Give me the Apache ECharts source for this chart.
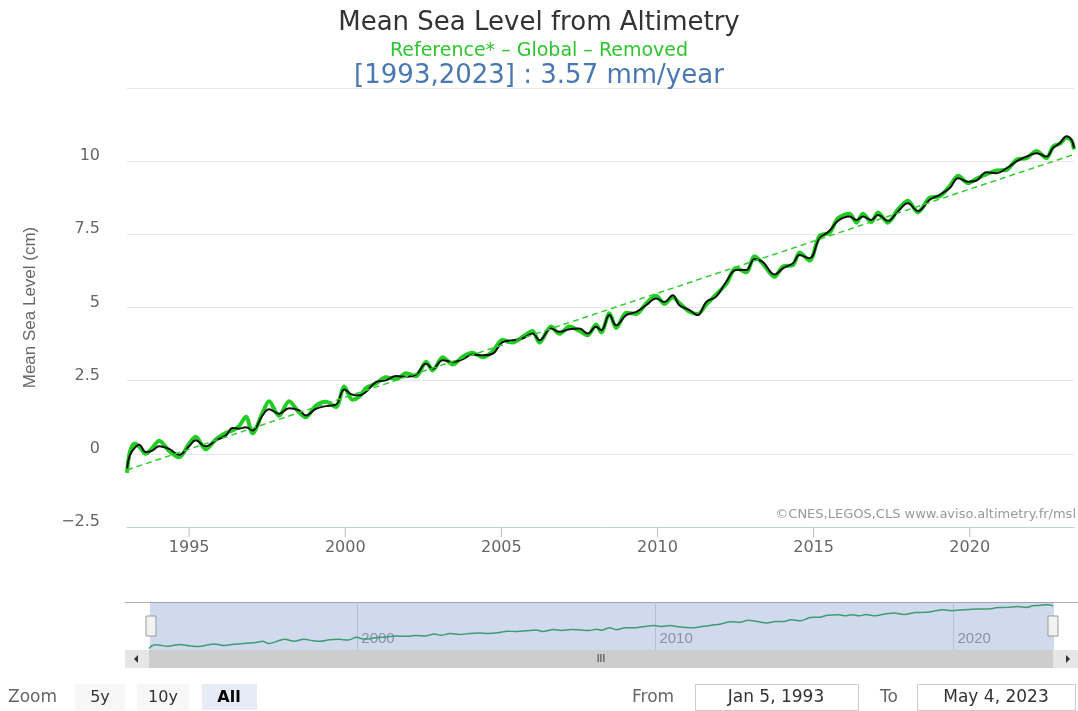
<!DOCTYPE html>
<html>
<head>
<meta charset="utf-8">
<script src="https://cdn.jsdelivr.net/npm/echarts@6/dist/echarts.min.js"></script>
<style>
  html, body { margin: 0; padding: 0; background: #fff; }
  #chart { width: 1078px; height: 711px; }
</style>
</head>
<body>
<div id="chart"></div>
<script>
// decimal years of the samples
var years = [
  1993.01, 1993.10, 1993.25, 1993.40, 1993.61, 1993.82, 1994.04, 1994.36, 1994.68, 1995.00,
  1995.21, 1995.53, 1995.86, 1996.18, 1996.39, 1996.60, 1996.82, 1997.03, 1997.35, 1997.56,
  1997.88, 1998.20, 1998.53, 1998.74, 1999.06, 1999.38, 1999.70, 1999.97, 2000.23, 2000.45,
  2000.66, 2000.98, 2001.30, 2001.63, 2001.95, 2002.27, 2002.59, 2002.80, 2003.12, 2003.44,
  2003.76, 2004.08, 2004.40, 2004.72, 2005.04, 2005.36, 2005.68, 2006.00, 2006.22, 2006.59,
  2006.86, 2007.18, 2007.50, 2007.77, 2008.03, 2008.20, 2008.46, 2008.68, 2009.00, 2009.32,
  2009.64, 2009.96, 2010.22, 2010.49, 2010.70, 2011.03, 2011.29, 2011.56, 2011.88, 2012.20,
  2012.52, 2012.84, 2013.11, 2013.37, 2013.75, 2014.02, 2014.34, 2014.55, 2014.87, 2015.19,
  2015.51, 2015.78, 2016.15, 2016.37, 2016.58, 2016.85, 2017.06, 2017.38, 2017.70, 2018.02,
  2018.34, 2018.72, 2019.04, 2019.36, 2019.63, 2019.95, 2020.21, 2020.53, 2020.86, 2021.18,
  2021.50, 2021.82, 2022.14, 2022.46, 2022.67, 2022.89, 2023.10, 2023.26, 2023.34
];
// green: raw mean sea level (cm)
var mslRaw = [
  -0.65, 0.05, 0.35, 0.25, 0.00, 0.20, 0.45, 0.10, -0.12, 0.35,
  0.58, 0.15, 0.50, 0.72, 0.80, 0.95, 1.27, 0.70, 1.40, 1.80,
  1.30, 1.80, 1.40, 1.25, 1.65, 1.78, 1.60, 2.30, 1.85, 1.95,
  2.25, 2.40, 2.62, 2.55, 2.75, 2.65, 3.15, 2.85, 3.30, 3.05,
  3.32, 3.45, 3.30, 3.50, 3.90, 3.80, 4.00, 4.20, 3.80, 4.35,
  4.10, 4.35, 4.20, 4.05, 4.42, 4.15, 4.80, 4.30, 4.82, 4.78,
  5.15, 5.40, 5.12, 5.35, 5.15, 4.85, 4.78, 5.10, 5.45, 5.80,
  6.35, 6.20, 6.75, 6.50, 6.05, 6.40, 6.45, 6.88, 6.60, 7.45,
  7.55, 8.05, 8.20, 7.90, 8.20, 7.92, 8.25, 7.90, 8.35, 8.65,
  8.25, 8.75, 8.80, 9.15, 9.50, 9.25, 9.40, 9.55, 9.68, 9.70,
  10.05, 10.10, 10.35, 10.10, 10.50, 10.60, 10.80, 10.70, 10.40
];
// black: filtered mean sea level (cm)
var mslSmooth = [
  -0.50, -0.05, 0.20, 0.31, 0.06, 0.11, 0.26, 0.17, -0.03, 0.26,
  0.46, 0.26, 0.46, 0.63, 0.88, 0.86, 0.91, 0.80, 1.31, 1.52,
  1.37, 1.56, 1.48, 1.31, 1.54, 1.63, 1.68, 2.20, 2.02, 2.00,
  2.11, 2.45, 2.51, 2.66, 2.63, 2.71, 3.08, 2.91, 3.20, 3.14,
  3.23, 3.39, 3.37, 3.42, 3.82, 3.88, 3.94, 4.11, 3.88, 4.28,
  4.17, 4.26, 4.28, 4.11, 4.34, 4.22, 4.74, 4.39, 4.74, 4.85,
  5.08, 5.31, 5.19, 5.42, 5.08, 4.91, 4.74, 5.19, 5.37, 5.88,
  6.28, 6.28, 6.66, 6.56, 6.13, 6.34, 6.51, 6.79, 6.68, 7.36,
  7.62, 7.96, 8.11, 7.99, 8.11, 7.99, 8.16, 7.96, 8.28, 8.56,
  8.30, 8.68, 8.85, 9.08, 9.42, 9.30, 9.33, 9.62, 9.59, 9.76,
  9.99, 10.16, 10.27, 10.16, 10.45, 10.62, 10.85, 10.73, 10.45
];
// linear trend 3.57 mm/year
var trendYears = [1993.01, 2023.34];
var trendValues = [-0.55, 10.23];

var xTickYears = [1995, 2000, 2005, 2010, 2015, 2020];
var navTickYears = [2000, 2010, 2020];
var yMin = -2.5;

function pairs(xs, ys) {
  return xs.map(function (x, i) { return [x, ys[i]]; });
}

var labelFont = 'DejaVu Sans, sans-serif';
var narrowFont = "'Liberation Sans Narrow', 'Liberation Sans', sans-serif";

var chart = echarts.init(document.getElementById('chart'), null, { renderer: 'canvas' });

var option = {
  animation: false,
  backgroundColor: '#fff',
  title: [
    { text: 'Mean Sea Level from Altimetry', left: 'center', top: 5,
      textStyle: { fontFamily: labelFont, fontSize: 26, fontWeight: 'normal', color: '#333' } },
    { text: 'Reference* \u2013 Global \u2013 Removed', left: 'center', top: 37,
      textStyle: { fontFamily: labelFont, fontSize: 19, fontWeight: 'normal', color: '#2fc42f' } },
    { text: '[1993,2023] : 3.57 mm/year', left: 'center', top: 58,
      textStyle: { fontFamily: labelFont, fontSize: 26, fontWeight: 'normal', color: '#4a78b0' } }
  ],
  grid: [
    { left: 127, right: 4, top: 88, bottom: 184 },
    { left: 149, right: 25, top: 602, height: 48 }
  ],
  xAxis: [
    {
      type: 'value', gridIndex: 0, min: 1993.01, max: 2023.34,
      axisLine: { show: true, onZero: false, lineStyle: { color: '#c0d0e0', width: 1 } },
      axisTick: { show: false },
      axisLabel: { customValues: xTickYears, color: '#666', fontSize: 16, fontFamily: labelFont, margin: 13,
        formatter: function (v) { return String(v); } },
      splitLine: { show: false }
    },
    {
      type: 'value', gridIndex: 1, min: 1993.01, max: 2023.34,
      axisLine: { show: false, onZero: false },
      axisTick: { show: false, customValues: navTickYears },
      axisLabel: { customValues: navTickYears, inside: true, align: 'left', verticalAlign: 'bottom',
        margin: 4, padding: [0, 0, 0, 4], color: '#999', fontSize: 15, fontFamily: narrowFont,
        formatter: function (v) { return String(v); } },
      splitLine: { show: true, lineStyle: { color: '#d4d9e2', width: 1 } }
    }
  ],
  yAxis: [
    {
      type: 'value', gridIndex: 0, min: yMin, max: 12.5, interval: 2.5,
      name: 'Mean Sea Level (cm)', nameLocation: 'middle', nameGap: 88, nameRotate: 90,
      nameTextStyle: { color: '#666', fontSize: 17, fontFamily: narrowFont },
      axisLine: { show: false }, axisTick: { show: false },
      axisLabel: {
        showMaxLabel: false, color: '#666', fontSize: 16, fontFamily: labelFont, margin: 27,
        verticalAlign: 'bottom', lineHeight: 10,
        formatter: function (v) { return String(v).replace('-', '\u2212'); }
      },
      splitLine: { lineStyle: { color: '#e6e6e6', width: 1 } }
    },
    {
      type: 'value', gridIndex: 1, min: -1, max: 11.5,
      show: false, splitLine: { show: false }
    }
  ],
  dataZoom: [
    {
      type: 'slider', xAxisIndex: 0, left: 149, right: 25, top: 602, height: 48,
      filterMode: 'none',
      showDataShadow: false, showDetail: false, brushSelect: false,
      backgroundColor: 'rgba(0,0,0,0)', borderColor: 'rgba(0,0,0,0)',
      fillerColor: 'rgba(102,133,194,0.3)',
      handleIcon: 'path://M0,0 L8,0 L8,16 L0,16 Z',
      handleSize: 20,
      handleStyle: { color: '#f2f2f2', borderColor: '#999', borderWidth: 1 },
      moveHandleSize: 0,
      moveHandleStyle: { opacity: 0 },
      emphasis: { handleStyle: { color: '#f2f2f2', borderColor: '#999' } }
    }
  ],
  series: [
    {
      name: 'Raw', type: 'line', xAxisIndex: 0, yAxisIndex: 0,
      data: pairs(years, mslRaw), showSymbol: false, smooth: 0.3,
      lineStyle: { color: '#22cc22', width: 4 }, z: 2
    },
    {
      name: 'Filtered', type: 'line', xAxisIndex: 0, yAxisIndex: 0,
      data: pairs(years, mslSmooth), showSymbol: false, smooth: 0.4,
      lineStyle: { color: '#111', width: 2 }, z: 3
    },
    {
      name: 'Trend', type: 'line', xAxisIndex: 0, yAxisIndex: 0,
      data: pairs(trendYears, trendValues), showSymbol: false,
      lineStyle: { color: '#33cc33', width: 1.5, type: [6, 4] }, z: 4
    },
    {
      // x-axis tick marks under the year labels
      name: 'Ticks', type: 'scatter', xAxisIndex: 0, yAxisIndex: 0,
      silent: true, clip: false, z: 10,
      data: xTickYears.map(function (y) { return [y, yMin]; }),
      symbol: 'rect', symbolSize: [1, 10], symbolOffset: [0, 5],
      itemStyle: { color: '#b0c2d6', opacity: 1 },
      emphasis: { disabled: true }
    },
    {
      name: 'Navigator', type: 'line', xAxisIndex: 1, yAxisIndex: 1,
      data: pairs(years, mslRaw), showSymbol: false, smooth: 0.3,
      lineStyle: { color: '#2aa84a', width: 1.5 }, silent: true
    }
  ],
  graphic: [
    { type: 'text', right: 2, top: 508,
      style: { text: '\u00a9CNES,LEGOS,CLS www.aviso.altimetry.fr/msl', fill: '#999', font: '13px ' + labelFont } },
    // navigator outline
    { type: 'line', shape: { x1: 125, y1: 602.5, x2: 1078, y2: 602.5 }, style: { stroke: '#b2b1b6', lineWidth: 1 } },
    // scrollbar
    { type: 'rect', shape: { x: 125, y: 650, width: 953, height: 18 }, style: { fill: '#e6e6e6' } },
    { type: 'rect', shape: { x: 149, y: 650, width: 904, height: 18 }, style: { fill: '#cdcdcd' } },
    { type: 'polygon', shape: { points: [[138, 655], [138, 663], [134, 659]] }, style: { fill: '#333' } },
    { type: 'polygon', shape: { points: [[1066, 655], [1066, 663], [1070, 659]] }, style: { fill: '#333' } },
    { type: 'text', x: 601, y: 659,
      style: { text: 'III', fill: '#333', font: '10px ' + narrowFont, align: 'center', verticalAlign: 'middle' } },
    // range selector
    { type: 'text', x: 8, y: 698,
      style: { text: 'Zoom', fill: '#666', font: '17px ' + labelFont, verticalAlign: 'middle' } },
    { type: 'rect', shape: { x: 75, y: 684, width: 50, height: 26 }, style: { fill: '#f7f7f7' } },
    { type: 'text', x: 100, y: 698,
      style: { text: '5y', fill: '#333', font: '16px ' + labelFont, align: 'center', verticalAlign: 'middle' } },
    { type: 'rect', shape: { x: 137, y: 684, width: 52, height: 26 }, style: { fill: '#f7f7f7' } },
    { type: 'text', x: 163, y: 698,
      style: { text: '10y', fill: '#333', font: '16px ' + labelFont, align: 'center', verticalAlign: 'middle' } },
    { type: 'rect', shape: { x: 202, y: 684, width: 55, height: 26 }, style: { fill: '#e6ebf5' } },
    { type: 'text', x: 229, y: 698,
      style: { text: 'All', fill: '#000', font: 'bold 16px ' + labelFont, align: 'center', verticalAlign: 'middle' } },
    { type: 'text', x: 632, y: 698,
      style: { text: 'From', fill: '#666', font: '17px ' + labelFont, verticalAlign: 'middle' } },
    { type: 'rect', shape: { x: 695.5, y: 684.5, width: 163, height: 26 }, style: { fill: '#fff', stroke: '#cccccc', lineWidth: 1 } },
    { type: 'text', x: 776, y: 698,
      style: { text: 'Jan 5, 1993', fill: '#333', font: '17px ' + labelFont, align: 'center', verticalAlign: 'middle' } },
    { type: 'text', x: 880, y: 698,
      style: { text: 'To', fill: '#666', font: '17px ' + labelFont, verticalAlign: 'middle' } },
    { type: 'rect', shape: { x: 917.5, y: 684.5, width: 158, height: 26 }, style: { fill: '#fff', stroke: '#cccccc', lineWidth: 1 } },
    { type: 'text', x: 996, y: 698,
      style: { text: 'May 4, 2023', fill: '#333', font: '17px ' + labelFont, align: 'center', verticalAlign: 'middle' } }
  ]
};

chart.setOption(option);
</script>
</body>
</html>
